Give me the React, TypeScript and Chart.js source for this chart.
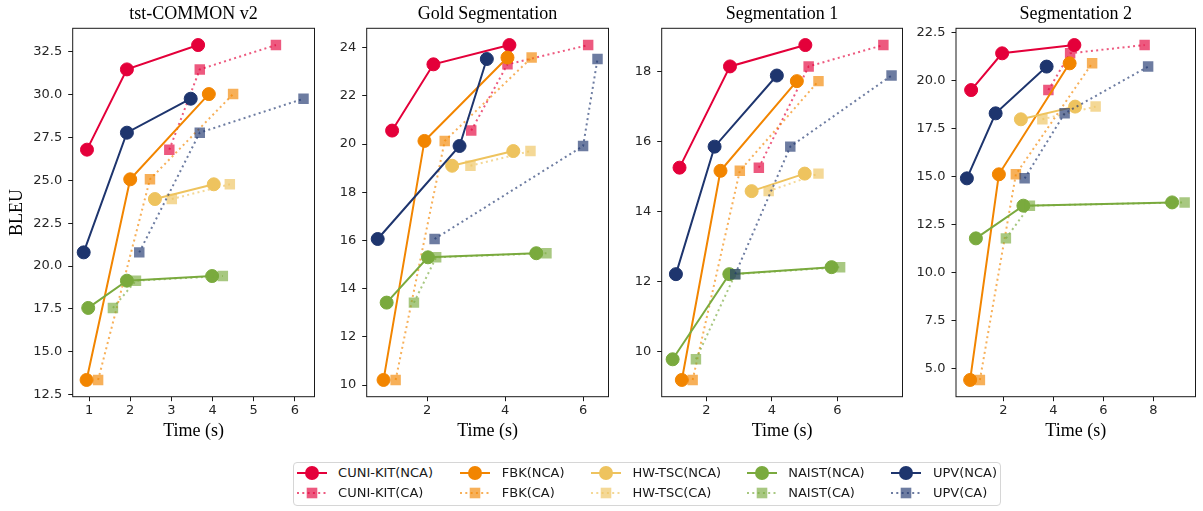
import React, { useEffect, useRef } from 'react';
import { Chart, registerables } from 'chart.js';

Chart.register(...registerables);

const SYSTEMS = ['CUNI-KIT', 'FBK', 'HW-TSC', 'NAIST', 'UPV'];
const COLORS = ['#E4003A', '#F28500', '#EEC35E', '#7AAA3E', '#1E356E'];
const CA_ALPHA = 0.65;

// tst-COMMON v2
const tcBleu = [[26.79, 31.47, 32.89], [13.36, 25.06, 30.03], [23.91, 24.77], [17.56, 19.15, 19.42], [20.8, 27.78, 29.76]];
const tcNcaTime = [[0.95, 1.92, 3.65], [0.94, 2.0, 3.91], [2.6, 4.03], [0.98, 1.92, 3.99], [0.87, 1.92, 3.47]];
const tcCaTime = [[2.95, 3.69, 5.54], [1.22, 2.48, 4.5], [3.01, 4.42], [1.58, 2.14, 4.25], [2.22, 3.69, 6.21]];
const tcXTicks = ['1', '2', '3', '4', '5', '6'];
const tcYTicks = ['12.5', '15.0', '17.5', '20.0', '22.5', '25.0', '27.5', '30.0', '32.5'];

// Gold Segmentation
const goldBleu = [[20.56, 23.31, 24.11], [10.21, 20.13, 23.59], [19.1, 19.71], [13.42, 15.3, 15.47], [16.06, 19.92, 23.53]];
const goldNcaTime = [[1.1, 2.16, 4.11], [0.88, 1.93, 4.06], [2.64, 4.21], [0.96, 2.02, 4.8], [0.73, 2.83, 3.53]];
const goldCaTime = [[3.13, 4.06, 6.13], [1.19, 2.45, 4.68], [3.11, 4.65], [1.66, 2.23, 5.06], [2.19, 6.0, 6.37]];
const goldXTicks = ['2', '4', '6'];
const goldYTicks = ['10', '12', '14', '16', '18', '20', '22', '24'];

// Segmentation 1
const s1Bleu = [[15.25, 18.14, 18.75], [9.19, 15.16, 17.72], [14.58, 15.08], [9.78, 12.21, 12.41], [12.21, 15.85, 17.88]];
const s1NcaTime = [[1.18, 2.72, 5.02], [1.25, 2.43, 4.76], [3.38, 5.0], [0.97, 2.7, 5.82], [1.07, 2.25, 4.15]];
const s1CaTime = [[3.6, 5.12, 7.4], [1.58, 3.02, 5.42], [3.9, 5.42], [1.68, 2.88, 6.08], [2.88, 4.56, 7.65]];
const s1XTicks = ['2', '4', '6'];
const s1YTicks = ['10', '12', '14', '16', '18'];

// Segmentation 2
const s2Bleu = [[19.5, 21.41, 21.84], [4.43, 15.12, 20.89], [17.98, 18.64], [11.79, 13.49, 13.66], [14.91, 18.29, 20.72]];
const s2NcaTime = [[0.71, 1.95, 4.84], [0.67, 1.82, 4.65], [2.7, 4.87], [0.9, 2.8, 8.75], [0.54, 1.69, 3.73]];
const s2CaTime = [[3.8, 4.67, 7.65], [1.06, 2.5, 5.55], [3.56, 5.69], [2.1, 3.06, 9.25], [2.85, 4.45, 7.79]];
const s2XTicks = ['2', '4', '6', '8'];
const s2YTicks = ['5.0', '7.5', '10.0', '12.5', '15.0', '17.5', '20.0', '22.5'];

const PANELS = [
  { title: 'tst-COMMON v2', bleu: tcBleu, nca: tcNcaTime, ca: tcCaTime, xTicks: tcXTicks, yTicks: tcYTicks, yLabel: 'BLEU', left: 0, width: 322, yW: 72.7 },
  { title: 'Gold Segmentation', bleu: goldBleu, nca: goldNcaTime, ca: goldCaTime, xTicks: goldXTicks, yTicks: goldYTicks, yLabel: '', left: 320, width: 296, yW: 46.7 },
  { title: 'Segmentation 1', bleu: s1Bleu, nca: s1NcaTime, ca: s1CaTime, xTicks: s1XTicks, yTicks: s1YTicks, yLabel: '', left: 615, width: 295, yW: 46.7 },
  { title: 'Segmentation 2', bleu: s2Bleu, nca: s2NcaTime, ca: s2CaTime, xTicks: s2XTicks, yTicks: s2YTicks, yLabel: '', left: 910, width: 293, yW: 46 },
];

const CANVAS_H = 442;
const TICK_FONT = { family: 'DejaVu Sans', size: 13 };
const SERIF_FONT = { family: 'Liberation Serif', size: 18, weight: 'normal' as const };

function rgba(hex: string, a: number) {
  const n = parseInt(hex.slice(1), 16);
  return `rgba(${(n >> 16) & 255},${(n >> 8) & 255},${n & 255},${a})`;
}

function range(vals: number[]) {
  const lo = Math.min(...vals);
  const hi = Math.max(...vals);
  const m = (hi - lo) * 0.05;
  return [lo - m, hi + m];
}

const framePlugin = {
  id: 'frame',
  afterDraw(chart: any) {
    const { left, top, right, bottom } = chart.chartArea;
    const ctx = chart.ctx;
    ctx.save();
    ctx.strokeStyle = '#1a1a1a';
    ctx.lineWidth = 1;
    ctx.strokeRect(left, top, right - left, bottom - top);
    ctx.restore();
  },
};

function Panel({ p }: { p: (typeof PANELS)[number] }) {
  const ref = useRef<HTMLCanvasElement>(null);
  useEffect(() => {
    const datasets: any[] = [];
    SYSTEMS.forEach((s, si) => {
      const c = COLORS[si];
      datasets.push({
        label: `${s}(NCA)`,
        data: p.nca[si].map((t, i) => ({ x: t, y: p.bleu[si][i] })),
        borderColor: c,
        backgroundColor: c,
        pointBackgroundColor: c,
        pointBorderColor: c,
        borderWidth: 2,
        pointRadius: 6.5,
        pointBorderWidth: 1,
        pointStyle: 'circle',
        tension: 0,
      });
      const ca = rgba(c, CA_ALPHA);
      datasets.push({
        label: `${s}(CA)`,
        data: p.ca[si].map((t, i) => ({ x: t, y: p.bleu[si][i] })),
        borderColor: ca,
        backgroundColor: ca,
        pointBackgroundColor: ca,
        pointBorderColor: ca,
        borderWidth: 2,
        borderDash: [2, 3.3],
        pointRadius: 7.4,
        pointBorderWidth: 0,
        pointStyle: 'rect',
        tension: 0,
      });
    });
    const n = datasets.length;
    datasets.forEach((d, i) => (d.order = n - i));

    const allX = [...p.nca.flat(), ...p.ca.flat()];
    const allY = p.bleu.flat();
    const [xMin, xMax] = range(allX);
    const [yMin, yMax] = range(allY);
    const xVals = p.xTicks.map(Number);
    const yVals = p.yTicks.map(Number);

    const chart = new Chart(ref.current!, {
      type: 'line',
      data: { datasets },
      plugins: [framePlugin],
      options: {
        animation: false,
        responsive: false,
        devicePixelRatio: 1,
        layout: { padding: 0 },
        plugins: {
          legend: { display: false },
          tooltip: { enabled: false },
          title: {
            display: true,
            fullSize: false,
            text: p.title,
            font: SERIF_FONT,
            color: '#000',
            padding: { top: 3, bottom: 3.7 },
          },
        },
        scales: {
          x: {
            type: 'linear',
            min: xMin,
            max: xMax,
            afterBuildTicks: (s: any) => {
              s.ticks = xVals.map((v) => ({ value: v }));
            },
            afterFit: (s: any) => {
              s.height = 45.3;
            },
            ticks: {
              autoSkip: false,
              maxRotation: 0,
              padding: 2,
              font: TICK_FONT,
              color: '#262626',
              callback: (_v: any, i: number) => p.xTicks[i],
            },
            grid: { drawOnChartArea: false, drawTicks: true, tickLength: 4.5, tickColor: '#1a1a1a', tickWidth: 1 },
            border: { display: false },
            title: { display: true, text: 'Time (s)', font: SERIF_FONT, color: '#000', padding: { top: 0, bottom: 0 } },
          },
          y: {
            type: 'linear',
            min: yMin,
            max: yMax,
            afterBuildTicks: (s: any) => {
              s.ticks = yVals.map((v) => ({ value: v }));
            },
            afterFit: (s: any) => {
              s.width = p.yW;
            },
            ticks: {
              autoSkip: false,
              padding: 6,
              font: TICK_FONT,
              color: '#262626',
              callback: (_v: any, i: number) => p.yTicks[i],
            },
            grid: { drawOnChartArea: false, drawTicks: true, tickLength: 4.5, tickColor: '#1a1a1a', tickWidth: 1 },
            border: { display: false },
            title: {
              display: !!p.yLabel,
              text: p.yLabel,
              font: SERIF_FONT,
              color: '#000',
              padding: { top: 6.2, bottom: 0 },
            },
          },
        },
      } as any,
    });
    return () => chart.destroy();
  }, [p]);
  return (
    <canvas
      ref={ref}
      width={p.width}
      height={CANVAS_H}
      style={{ position: 'absolute', left: p.left, top: 0, width: p.width, height: CANVAS_H }}
    />
  );
}

const LEGEND_COLS = [296.6, 460.3, 590.9, 746.7, 891.4];
const LEGEND_ROWS = [473, 493];

function LegendMarker({ color, ca }: { color: string; ca: boolean }) {
  const c = ca ? rgba(color, CA_ALPHA) : color;
  return (
    <svg width={30} height={18} style={{ display: 'block' }}>
      {ca ? (
        <>
          <line x1={0} y1={9} x2={30} y2={9} stroke={c} strokeWidth={2} strokeDasharray="2 3.3" />
          <rect x={15 - 5.3} y={9 - 5.3} width={10.6} height={10.6} fill={c} />
        </>
      ) : (
        <>
          <line x1={0} y1={9} x2={30} y2={9} stroke={c} strokeWidth={2} />
          <circle cx={15} cy={9} r={7} fill={c} />
        </>
      )}
    </svg>
  );
}

function Legend() {
  const items: React.ReactNode[] = [];
  SYSTEMS.forEach((s, si) => {
    [false, true].forEach((ca, ri) => {
      items.push(
        <div
          key={`${s}-${ri}`}
          style={{
            position: 'absolute',
            left: LEGEND_COLS[si],
            top: LEGEND_ROWS[ri] - 9,
            height: 18,
            display: 'flex',
            alignItems: 'center',
            whiteSpace: 'nowrap',
          }}
        >
          <LegendMarker color={COLORS[si]} ca={ca} />
          <span
            style={{
              marginLeft: 11.5,
              fontFamily: 'DejaVu Sans',
              fontSize: 13,
              lineHeight: '18px',
              color: '#1a1a1a',
            }}
          >
            {`${s}(${ca ? 'CA' : 'NCA'})`}
          </span>
        </div>
      );
    });
  });
  return (
    <>
      <div
        style={{
          position: 'absolute',
          left: 293,
          top: 462,
          width: 708,
          height: 44,
          boxSizing: 'border-box',
          border: '1px solid #d6d6d6',
          borderRadius: 4,
          background: '#fff',
        }}
      />
      {items}
    </>
  );
}

export default function App() {
  return (
    <div
      style={{
        position: 'absolute',
        left: 0,
        top: 0,
        width: 1203,
        height: 511,
        background: '#fff',
        overflow: 'hidden',
      }}
    >
      {PANELS.map((p, i) => (
        <Panel key={i} p={p} />
      ))}
      <Legend />
    </div>
  );
}
